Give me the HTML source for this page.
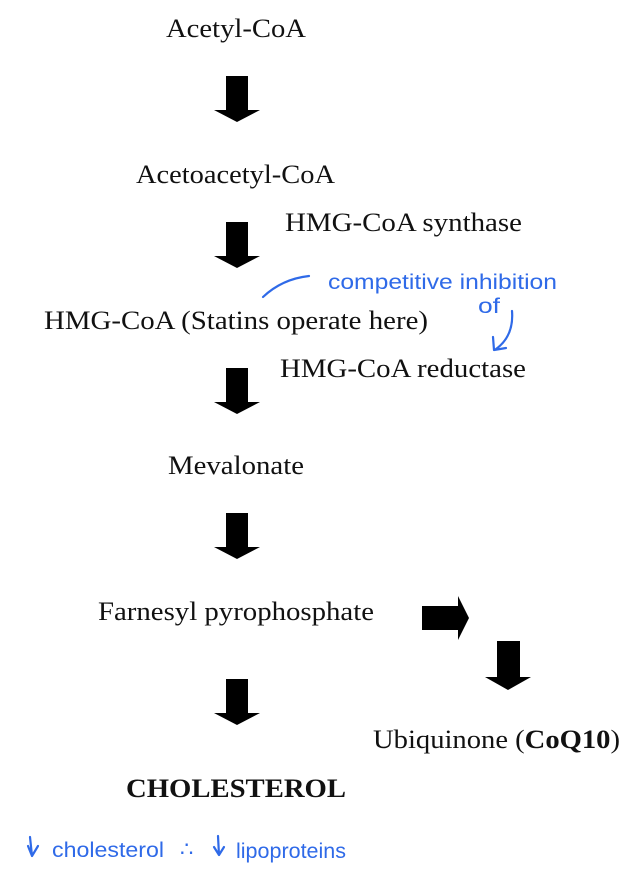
<!DOCTYPE html>
<html><head><meta charset="utf-8"><style>
html,body{margin:0;padding:0;background:#fff}
svg{display:block}
text{font-family:"Liberation Serif",serif;font-size:26px;fill:#111}
.h{fill:none;stroke:#2f6ae8;stroke-width:2.2;stroke-linecap:round;stroke-linejoin:round}
.hw{font-family:"Liberation Sans",sans-serif;font-size:21px;fill:#2f6ae8}
</style></head><body>
<svg width="622" height="886" viewBox="0 0 622 886" xmlns="http://www.w3.org/2000/svg">
<defs>
<path id="da" d="M226 0H248V34H260L237 46L214 34H226Z" fill="#000"/>
</defs>
<use href="#da" y="76"/>
<use href="#da" y="222"/>
<use href="#da" y="368"/>
<use href="#da" y="513"/>
<use href="#da" y="679"/>
<path d="M497 641H520V677H531L508 690L485 677H497Z" fill="#000"/>
<path d="M422 606H458V596L469 618L458 640V630H422Z" fill="#000"/>

<text x="166" y="37" textLength="140" lengthAdjust="spacingAndGlyphs">Acetyl-CoA</text>
<text x="136" y="183" textLength="199" lengthAdjust="spacingAndGlyphs">Acetoacetyl-CoA</text>
<text x="285" y="231" textLength="237" lengthAdjust="spacingAndGlyphs">HMG-CoA synthase</text>
<text x="44" y="329" textLength="384" lengthAdjust="spacingAndGlyphs">HMG-CoA (Statins operate here)</text>
<text x="280" y="377" textLength="246" lengthAdjust="spacingAndGlyphs">HMG-CoA reductase</text>
<text x="168" y="474" textLength="136" lengthAdjust="spacingAndGlyphs">Mevalonate</text>
<text x="98" y="620" textLength="276" lengthAdjust="spacingAndGlyphs">Farnesyl pyrophosphate</text>
<text x="373" y="748" textLength="247" lengthAdjust="spacingAndGlyphs">Ubiquinone (<tspan font-weight="bold">CoQ10</tspan>)</text>
<text x="126" y="797" font-weight="bold" textLength="220" lengthAdjust="spacingAndGlyphs">CHOLESTEROL</text>

<path class="h" d="M263 297Q282 279 309 276"/>
<text class="hw" x="328" y="289" textLength="229" lengthAdjust="spacingAndGlyphs">competitive inhibition</text>
<text class="hw" x="478" y="313" textLength="22" lengthAdjust="spacingAndGlyphs">of</text>
<path class="h" d="M512 311Q514 336 496 349M493 337L494 350L506 348"/>

<path class="h" d="M30 837L32 856M28 846L32 856L38 846"/>
<text class="hw" x="52" y="857" font-size="23" textLength="112" lengthAdjust="spacingAndGlyphs">cholesterol</text>
<text class="hw" x="180" y="856" font-size="18">∴</text>
<path class="h" d="M218 836L219 855M214 847L219 855L224 847"/>
<text class="hw" x="236" y="858" font-size="23" textLength="110" lengthAdjust="spacingAndGlyphs">lipoproteins</text>
</svg>
</body></html>
